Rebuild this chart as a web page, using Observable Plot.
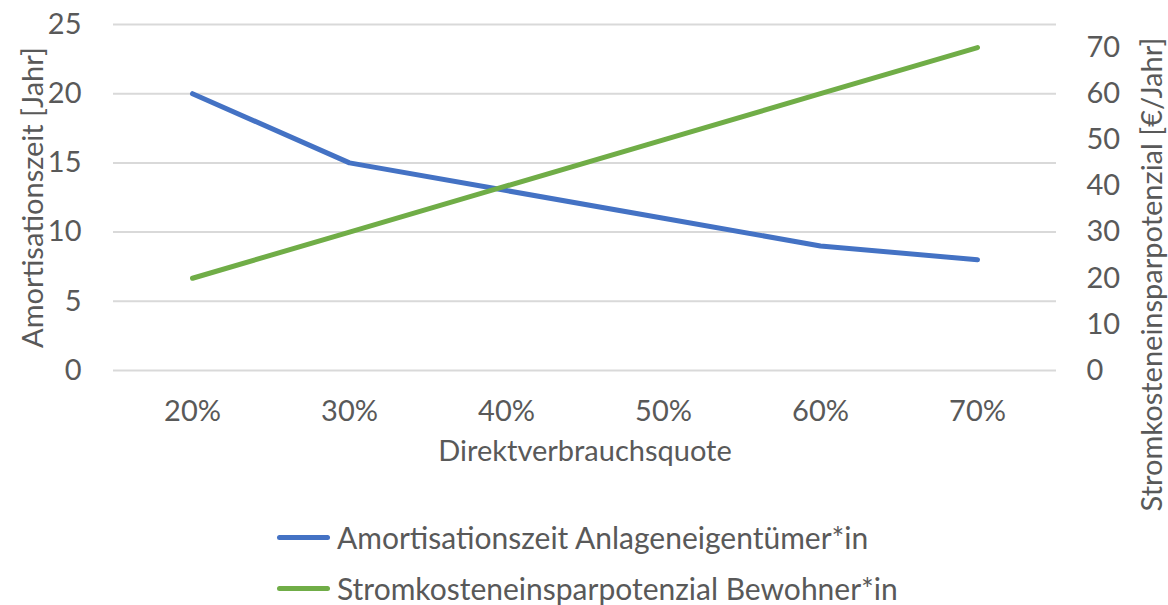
<!DOCTYPE html>
<html>
<head>
<meta charset="utf-8">
<script src="https://cdn.jsdelivr.net/npm/d3@7"></script>
<script src="https://cdn.jsdelivr.net/npm/@observablehq/plot@0.6"></script>
<style>
  body { margin: 0; background: #fff; font-family: Lato, "Open Sans", sans-serif; }
  #wrap { width: 1168px; height: 605px; position: relative; overflow: hidden; }
  .legend { position: absolute; left: 277px; top: 0; }
  .item { position: absolute; left: 0; display: flex; align-items: center; white-space: nowrap;
          font-size: 30px; color: #595959; }
  .swatch { width: 53px; height: 5px; border-radius: 3px; margin-right: 7px; }
</style>
</head>
<body>
<div id="wrap"></div>
<script>
const categories = ["20%", "30%", "40%", "50%", "60%", "70%"];
const amortisation = [20, 15, 13, 11, 9, 8];          // left axis, Jahr
const stromkosten = [20, 30, 40, 50, 60, 70];         // right axis, €/Jahr
const leftTicks = [0, 5, 10, 15, 20, 25];
const rightTicks = [0, 10, 20, 30, 40, 50, 60, 70];
const seriesNames = ["Amortisationszeit Anlageneigentümer*in", "Stromkosteneinsparpotenzial Bewohner*in"];
const colors = ["#4472C4", "#70AD47"];
const leftMax = 25, rightMax = 75;
const k = leftMax / rightMax;

const blue = categories.map((c, i) => ({x: c, y: amortisation[i]}));
const green = categories.map((c, i) => ({x: c, y: stromkosten[i] * k}));

const textColor = "#595959";
const fs = 29;
const chart = Plot.plot({
  width: 1168,
  height: 490,
  marginLeft: 113,
  marginRight: 112,
  marginTop: 24,
  marginBottom: 120,
  style: {fontFamily: "Lato, 'Open Sans', sans-serif", fontSize: fs + "px", color: textColor, background: "#fff", overflow: "visible"},
  x: {type: "point", domain: categories, padding: 0.5},
  y: {domain: [0, leftMax]},
  marks: [
    Plot.gridY(leftTicks, {stroke: "#d9d9d9", strokeOpacity: 1, strokeWidth: 2}),
    Plot.axisY(leftTicks, {anchor: "left", tickSize: 0, tickPadding: 32, label: null, fill: textColor}),
    Plot.axisY(rightTicks.map(v => v * k), {anchor: "right", tickSize: 0, tickPadding: 30, label: null,
      tickFormat: d => String(Math.round(d / k)), fill: textColor}),
    Plot.axisX({tickSize: 0, tickPadding: 30, label: null, fill: textColor}),
    Plot.text(["Amortisationszeit [Jahr]"], {frameAnchor: "left", textAnchor: "middle", dx: -80, rotate: -90, fill: textColor, fontSize: fs}),
    Plot.text(["Stromkosteneinsparpotenzial [€/Jahr]"], {frameAnchor: "right", textAnchor: "middle", dx: 96, dy: 77, rotate: -90, fill: textColor, fontSize: fs}),
    Plot.text(["Direktverbrauchsquote"], {frameAnchor: "bottom", textAnchor: "middle", dy: 90, fill: textColor, fontSize: fs}),
    Plot.line(blue, {x: "x", y: "y", stroke: colors[0], strokeWidth: 5, strokeLinecap: "round", strokeLinejoin: "round"}),
    Plot.line(green, {x: "x", y: "y", stroke: colors[1], strokeWidth: 5, strokeLinecap: "round", strokeLinejoin: "round"})
  ]
});
const wrap = document.getElementById("wrap");
wrap.appendChild(chart);

const legend = document.createElement("div");
legend.className = "legend";
seriesNames.forEach((name, i) => {
  const item = document.createElement("div");
  item.className = "item";
  item.style.top = (537 - 18 + i * 51) + "px";
  item.style.height = "36px";
  const sw = document.createElement("span");
  sw.className = "swatch";
  sw.style.background = colors[i];
  const t = document.createElement("span");
  t.textContent = name;
  item.appendChild(sw);
  item.appendChild(t);
  legend.appendChild(item);
});
wrap.appendChild(legend);
</script>
</body>
</html>
